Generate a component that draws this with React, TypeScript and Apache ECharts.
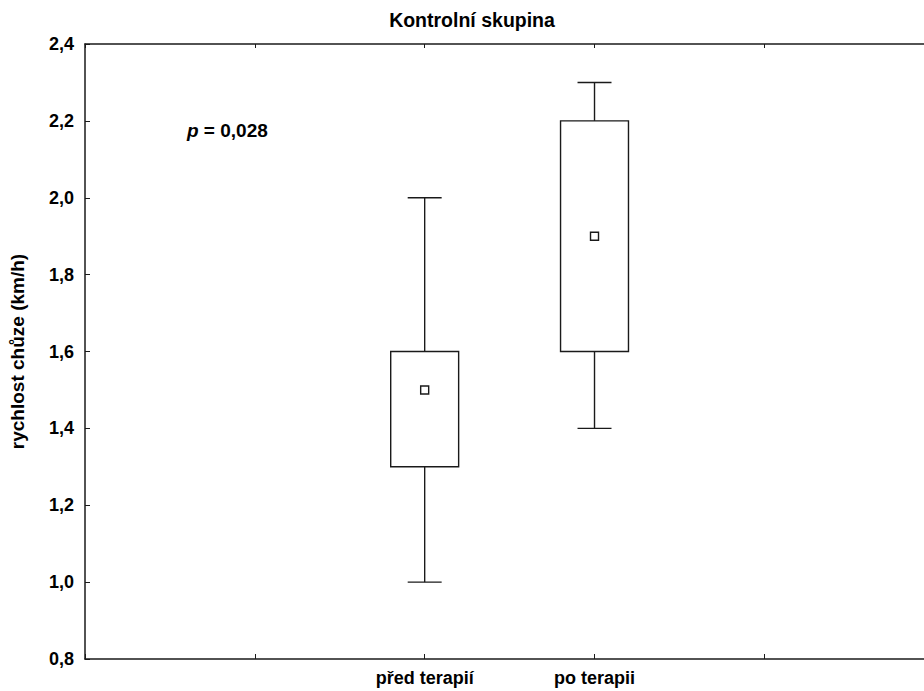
import React, { useEffect, useRef } from "react";
import * as echarts from "echarts";

const categories = ["před terapií", "po terapii"];
const categoryPositions = [1, 2];
const minValues = [1.0, 1.4];
const q1Values = [1.3, 1.6];
const medianValues = [1.5, 1.9];
const q3Values = [1.6, 2.2];
const maxValues = [2.0, 2.3];
const xTickPositions = [-1, 0, 1, 2, 3];

const titleText = "Kontrolní skupina";
const yAxisName = "rychlost chůze (km/h)";
const pValueText = "0,028";

const FONT = "'Liberation Sans', Arial, sans-serif";
const INK = "#1a1a1a";

export default function App() {
  const ref = useRef<HTMLDivElement>(null);

  useEffect(() => {
    if (!ref.current) return;
    const chart = echarts.init(ref.current, undefined, { renderer: "svg" });

    const data = categoryPositions.map((x, i) => [
      x,
      minValues[i],
      q1Values[i],
      medianValues[i],
      q3Values[i],
      maxValues[i],
    ]);

    const boxHalf = 0.2;
    const capHalf = 0.1;
    const xMin = -1;
    const xMax = 3.94;

    const option: any = {
      animation: false,
      backgroundColor: "#ffffff",
      grid: { left: 84, top: 44, bottom: 32, right: 0, containLabel: false },
      xAxis: [
        {
          type: "value",
          min: xMin,
          max: xMax,
          position: "bottom",
          splitLine: { show: false },
          axisLine: { show: true, onZero: false, lineStyle: { color: INK, width: 1.5 } },
          axisTick: {
            show: true,
            inside: true,
            length: 5,
            customValues: xTickPositions,
            lineStyle: { color: INK, width: 1 },
          },
          axisLabel: {
            margin: 10,
            fontFamily: FONT,
            fontWeight: "bold",
            fontSize: 18,
            color: "#000",
            customValues: categoryPositions,
            formatter: (v: number) => {
              const idx = categoryPositions.indexOf(Math.round(v));
              return idx >= 0 ? categories[idx] : "";
            },
          },
        },
        {
          type: "value",
          min: xMin,
          max: xMax,
          position: "top",
          splitLine: { show: false },
          axisLine: { show: true, onZero: false, lineStyle: { color: INK, width: 1.5 } },
          axisTick: {
            show: true,
            inside: true,
            length: 4,
            customValues: xTickPositions,
            lineStyle: { color: INK, width: 1 },
          },
          axisLabel: { show: false },
        },
      ],
      yAxis: {
        type: "value",
        min: 0.8,
        max: 2.4,
        interval: 0.2,
        splitLine: { show: false },
        axisLine: { show: true, onZero: false, lineStyle: { color: INK, width: 1.5 } },
        axisTick: { show: true, inside: true, length: 5, lineStyle: { color: INK, width: 1 } },
        axisLabel: {
          margin: 11,
          fontFamily: FONT,
          fontWeight: "bold",
          fontSize: 18,
          color: "#000",
          formatter: (v: number) => v.toFixed(1).replace(".", ","),
        },
        name: yAxisName,
        nameLocation: "middle",
        nameGap: 58,
        nameRotate: 90,
        nameTextStyle: {
          fontFamily: FONT,
          fontWeight: "bold",
          fontSize: 19,
          color: "#000",
        },
      },
      graphic: [
        {
          type: "text",
          x: 472,
          y: 20,
          style: {
            text: titleText,
            font: `bold 19.5px ${FONT}`,
            fill: "#000",
            align: "center",
            verticalAlign: "middle",
          },
        },
        {
          type: "text",
          x: 187,
          y: 130,
          style: {
            text: "{i|p} = " + pValueText,
            font: `bold 19px ${FONT}`,
            fill: "#000",
            align: "left",
            verticalAlign: "middle",
            rich: {
              i: {
                fontStyle: "italic",
                fontWeight: "bold",
                fontSize: 19,
                fontFamily: FONT,
                fill: "#000",
              },
            },
          },
        },
      ],
      series: [
        {
          type: "custom",
          xAxisIndex: 0,
          yAxisIndex: 0,
          data,
          renderItem: (params: any, api: any) => {
            const x = api.value(0);
            const pMin = api.coord([x, api.value(1)]);
            const pQ1 = api.coord([x, api.value(2)]);
            const pMed = api.coord([x, api.value(3)]);
            const pQ3 = api.coord([x, api.value(4)]);
            const pMax = api.coord([x, api.value(5)]);
            const left = api.coord([x - boxHalf, api.value(2)])[0];
            const right = api.coord([x + boxHalf, api.value(2)])[0];
            const capL = api.coord([x - capHalf, api.value(2)])[0];
            const capR = api.coord([x + capHalf, api.value(2)])[0];
            const lineStyle = { stroke: INK, lineWidth: 1.4, fill: null };
            const cx = pMed[0];
            const sq = 8;
            return {
              type: "group",
              children: [
                { type: "line", shape: { x1: cx, y1: pMax[1], x2: cx, y2: pQ3[1] }, style: lineStyle },
                { type: "line", shape: { x1: cx, y1: pQ1[1], x2: cx, y2: pMin[1] }, style: lineStyle },
                { type: "line", shape: { x1: capL, y1: pMax[1], x2: capR, y2: pMax[1] }, style: lineStyle },
                { type: "line", shape: { x1: capL, y1: pMin[1], x2: capR, y2: pMin[1] }, style: lineStyle },
                {
                  type: "rect",
                  shape: { x: left, y: pQ3[1], width: right - left, height: pQ1[1] - pQ3[1] },
                  style: { stroke: INK, lineWidth: 1.4, fill: "#ffffff" },
                },
                {
                  type: "rect",
                  shape: { x: cx - sq / 2, y: pMed[1] - sq / 2, width: sq, height: sq },
                  style: { stroke: INK, lineWidth: 1.4, fill: "#ffffff" },
                },
              ],
            };
          },
        },
      ],
    };

    chart.setOption(option);
    return () => chart.dispose();
  }, []);

  return (
    <div
      ref={ref}
      style={{ position: "fixed", left: 0, top: 0, width: 924, height: 691, background: "#fff" }}
    />
  );
}
